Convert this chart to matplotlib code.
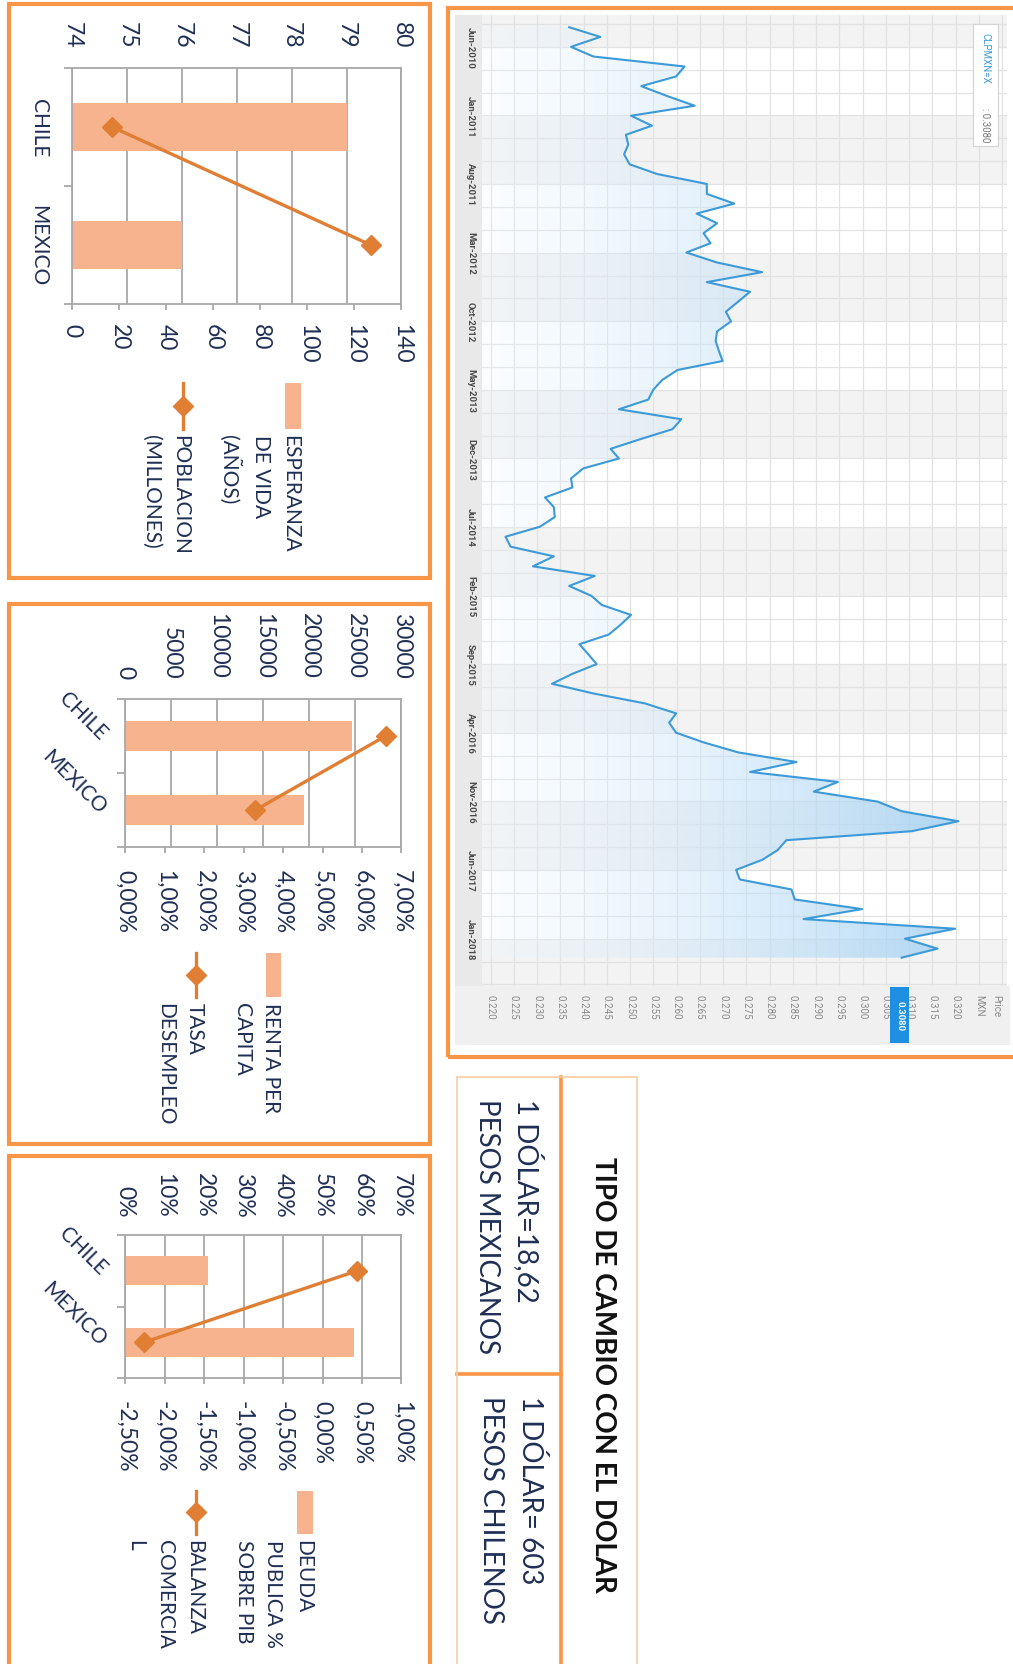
import numpy as np
import pandas as pd
import matplotlib
matplotlib.use("Agg")
import matplotlib.pyplot as plt
import matplotlib.dates as mdates
from matplotlib.patches import Rectangle
from matplotlib.lines import Line2D
from matplotlib.colors import LinearSegmentedColormap
from matplotlib.ticker import FuncFormatter

W, H, DPI = 1013, 1665, 100
plt.rcParams["font.family"] = ["Lato", "DejaVu Sans"]

# ---------------- data ----------------
countries = ["CHILE", "MEXICO"]

life_expectancy = [79, 76]            # ESPERANZA DE VIDA (AÑOS)
population_m = [17, 127]              # POBLACION (MILLONES)

income_per_capita = [24600, 19450]    # RENTA PER CAPITA
unemployment = [0.066, 0.033]         # TASA DESEMPLEO

public_debt = [0.21, 0.58]            # DEUDA PUBLICA % SOBRE PIB
trade_balance = [0.0044, -0.0226]     # BALANZA COMERCIAL

# monthly CLP/MXN close, Apr-2010 .. Mar-2018
fx_start = "2010-04-01"
clp_mxn = [
    0.2369, 0.2436, 0.2373, 0.2421, 0.2617, 0.2599, 0.2524, 0.2580, 0.2639, 0.2502,
    0.2547, 0.2491, 0.2496, 0.2487, 0.2499, 0.2558, 0.2665, 0.2665, 0.2724, 0.2643,
    0.2687, 0.2658, 0.2673, 0.2621, 0.2687, 0.2784, 0.2665, 0.2758, 0.2732, 0.2706,
    0.2717, 0.2687, 0.2684, 0.2691, 0.2699, 0.2602, 0.2569, 0.2550, 0.2539, 0.2476,
    0.2610, 0.2591, 0.2524, 0.2458, 0.2476, 0.2399, 0.2373, 0.2376, 0.2317, 0.2336,
    0.2338, 0.2306, 0.2232, 0.2243, 0.2336, 0.2291, 0.2424, 0.2369, 0.2417, 0.2439,
    0.2502, 0.2480, 0.2454, 0.2391, 0.2410, 0.2428, 0.2376, 0.2332, 0.2421, 0.2532,
    0.2599, 0.2584, 0.2599, 0.2658, 0.2732, 0.2858, 0.2758, 0.2947, 0.2895, 0.3032,
    0.3084, 0.3206, 0.3106, 0.2836, 0.2817, 0.2784, 0.2728, 0.2736, 0.2847, 0.2854,
    0.2999, 0.2873, 0.3199, 0.3091, 0.3161, 0.3084,
]
fx_tick_labels = ["Jun-2010", "Jan-2011", "Aug-2011", "Mar-2012", "Oct-2012", "May-2013",
                  "Dec-2013", "Jul-2014", "Feb-2015", "Sep-2015", "Apr-2016", "Nov-2016",
                  "Jun-2017", "Jan-2018"]
fx_last = 0.3080
fx_ticker = "CLPMXN=X"

usd_in_mxn = "18,62"
usd_in_clp = "603"

# ---------------- style ----------------
ORANGE = "#F79646"
BAR = "#F7B38D"
LINE = "#E07E34"
GRID = "#A8A8A8"
TXT = "#1F2F55"
FX_LINE = "#3C9AD8"
NUM_SIZE = 16.5

fig = plt.figure(figsize=(W / DPI, H / DPI), dpi=DPI, facecolor="white")


def rect(x0, y0, x1, y1):
    """pixel box (top-left origin) -> figure fraction rect"""
    return [x0 / W, 1 - y1 / H, (x1 - x0) / W, (y1 - y0) / H]


def P(x, y):
    return x / W, 1 - y / H


def frame(x0, y0, x1, y1, color, lw):
    fig.add_artist(Rectangle(P(x0, y1), (x1 - x0) / W, (y1 - y0) / H,
                             transform=fig.transFigure, fill=False,
                             edgecolor=color, linewidth=lw, zorder=5))


def combo_chart(box, bar_vals, bar_lim, bar_ticks, bar_fmt, top_pad,
                line_vals, line_lim, line_ticks, line_fmt, bottom_pad,
                diagonal, cat_pad):
    ax = fig.add_axes(rect(*box))
    ax2 = ax.twiny()
    pos = np.arange(len(countries))

    # bars on the top value axis
    ax.barh(pos, np.array(bar_vals) - bar_lim[0], left=bar_lim[0], height=0.4,
            color=BAR, zorder=2)
    ax.set_xlim(bar_lim)
    ax.set_ylim(len(countries) - 0.5, -0.5)
    ax.xaxis.tick_top()
    ax.set_xticks(bar_ticks)
    ax.xaxis.set_major_formatter(FuncFormatter(bar_fmt))
    ax.tick_params(axis="x", length=0, pad=top_pad, labelrotation=-90,
                   labelsize=NUM_SIZE, labelcolor=TXT)
    ax.grid(axis="x", color=GRID, lw=1.3)
    ax.set_axisbelow(True)
    ax.set_yticks(np.arange(len(countries) + 1) - 0.5)
    ax.set_yticklabels([])
    ax.set_yticks(pos, minor=True)
    ax.set_yticklabels(countries, minor=True)
    ax.tick_params(axis="y", which="major", length=6, color=GRID, width=1.3)
    ax.tick_params(axis="y", which="minor", length=0, pad=cat_pad,
                   labelsize=15, labelcolor=TXT)
    for lbl in ax.get_yticklabels(minor=True):
        if diagonal:
            lbl.set_rotation(-45)
            lbl.set_rotation_mode("anchor")
            lbl.set_ha("right")
            lbl.set_va("center")
        else:
            lbl.set_rotation(-90)
            lbl.set_va("center")
    for s in ax.spines.values():
        s.set_color(GRID)
        s.set_linewidth(1.3)

    # line on the bottom value axis
    ax2.xaxis.tick_bottom()
    ax2.set_xlim(line_lim)
    ax2.set_xticks(line_ticks)
    ax2.xaxis.set_major_formatter(FuncFormatter(line_fmt))
    ax2.tick_params(axis="x", length=4.5, width=1.3, color=GRID, pad=bottom_pad,
                    labelrotation=-90, labelsize=NUM_SIZE, labelcolor=TXT)
    for s in ax2.spines.values():
        s.set_visible(False)
    ax2.plot(line_vals, pos, color=LINE, lw=2.4, marker="D", ms=10,
             zorder=3, clip_on=False)
    return ax


def legend(swatch, bar_text, line_x, line_text, y_text):
    sx0, sx1, sy0, sy1 = swatch
    fig.add_artist(Rectangle(P(sx0, sy1), (sx1 - sx0) / W, (sy1 - sy0) / H,
                             transform=fig.transFigure, facecolor=BAR, edgecolor="none"))
    fig.text(*P((sx0 + sx1) / 2 + 8, y_text), bar_text, rotation=-90, ha="right",
             va="top", fontsize=15, color=TXT, linespacing=1.6, multialignment="left")
    x, _ = P(line_x, 0)
    fig.add_artist(Line2D([x, x], [P(0, sy0)[1], P(0, sy1)[1]], color=LINE, lw=2.4,
                          transform=fig.transFigure))
    fig.add_artist(Line2D([x], [P(0, (sy0 + sy1) / 2)[1]], color=LINE, marker="D", ms=10,
                          transform=fig.transFigure))
    fig.text(*P(line_x + 8, y_text), line_text, rotation=-90, ha="right", va="top",
             fontsize=15, color=TXT, linespacing=1.6, multialignment="left")


def pct2(v, _):
    return f"{v * 100:.2f}%".replace(".", ",")


def pct0(v, _):
    return f"{v * 100:.0f}%"


def plain(v, _):
    return f"{v:.0f}"


# ---------------- panel frames ----------------
frame(8.5, 5.3, 430, 579, ORANGE, 3)
frame(8.5, 605, 430, 1145, ORANGE, 3)
frame(8.5, 1157, 430, 1720, ORANGE, 3)
frame(448, 8.5, 1060, 1058, ORANGE, 3)

# ---------------- chart 1 : life expectancy / population ----------------
combo_chart((72.2, 69, 401.4, 305), life_expectancy, (74, 80), np.arange(74, 81), plain, 15,
            population_m, (0, 140), np.arange(0, 141, 20), plain, 9,
            False, 17)
legend((284.6, 300.5, 384, 430), "ESPERANZA\nDE VIDA\n(AÑOS)",
       182.6, "POBLACION\n(MILLONES)", 435)

# ---------------- chart 2 : income / unemployment ----------------
combo_chart((125.3, 700, 401.4, 848), income_per_capita, (0, 30000),
            np.arange(0, 30001, 5000), plain, 15,
            unemployment, (0, 0.07), np.linspace(0, 0.07, 8), pct2, 11,
            True, 16)
legend((265.5, 281.4, 953.6, 998), "RENTA PER\nCAPITA",
       196.4, "TASA\nDESEMPLEO", 1003.5)

# ---------------- chart 3 : public debt / trade balance ----------------
combo_chart((125.3, 1236, 401.4, 1379), public_debt, (0, 0.70),
            np.linspace(0, 0.70, 8), pct0, 13,
            trade_balance, (-0.025, 0.01), np.linspace(-0.025, 0.01, 8), pct2, 11,
            True, 16)
legend((297, 313, 1492, 1534.5), "DEUDA\nPUBLICA %\nSOBRE PIB",
       196.4, "BALANZA\nCOMERCIA\nL", 1540)

# ---------------- exchange rate box ----------------
frame(457, 1078, 637, 1720, "#F9CBA3", 1.2)
fig.add_artist(Line2D([P(561, 0)[0]] * 2, [P(0, 1078)[1], 0], color=ORANGE, lw=2.6,
                      transform=fig.transFigure))
fig.add_artist(Line2D([P(457, 0)[0], P(561, 0)[0]], [P(0, 1375)[1]] * 2, color=ORANGE,
                      lw=2.6, transform=fig.transFigure))
fig.text(*P(603, 1375), "TIPO DE CAMBIO CON EL DOLAR", rotation=-90, ha="center",
         va="center", fontsize=20, fontweight="bold", color="#111111")
fig.text(*P(544, 1099), f"1 DÓLAR={usd_in_mxn}\nPESOS MEXICANOS", rotation=-90,
         ha="right", va="top", fontsize=20, color=TXT, linespacing=1.6,
         multialignment="left")
fig.text(*P(544, 1396), f"1 DÓLAR= {usd_in_clp}\nPESOS CHILENOS", rotation=-90,
         ha="right", va="top", fontsize=20, color=TXT, linespacing=1.6,
         multialignment="left")

# ---------------- CLP/MXN history ----------------
# label strips (behind the axes)
fig.add_artist(Rectangle(P(455, 987), 27 / W, 971 / H, transform=fig.transFigure,
                         facecolor="#E9E9E9", edgecolor="none", zorder=-2))
fig.add_artist(Rectangle(P(455, 1046), 555 / W, 59 / H, transform=fig.transFigure,
                         facecolor="#F0F0F0", edgecolor="none", zorder=-2))

axf = fig.add_axes(rect(482, 16, 1007, 987))
axf.patch.set_alpha(0)
fx_dates = pd.date_range(fx_start, periods=len(clp_mxn), freq="MS")
t = mdates.date2num(fx_dates)
tick_t = mdates.date2num(pd.to_datetime(fx_tick_labels, format="%b-%Y"))
y_top = mdates.date2num(pd.Timestamp("2010-02-22"))
y_bot = mdates.date2num(pd.Timestamp("2018-05-28"))
x_lo, x_hi = 0.21815, 0.33105

# alternating time bands
bounds = [y_top] + list(tick_t) + [y_bot]
for i in range(0, len(bounds) - 1, 2):
    axf.axhspan(bounds[i], bounds[i + 1], color="#F3F3F3", zorder=0, lw=0)

# grid: three rows per labelled interval, one column per 0.005
step = np.diff(tick_t).mean() / 3
rows = np.arange(tick_t[0] - 2 * step, y_bot, step)
for r in rows:
    axf.axhline(r, color="#E2E2E2", lw=0.9, zorder=1)
for c in np.arange(0.220, x_hi, 0.005):
    axf.axvline(c, color="#E2E2E2", lw=0.9, zorder=1)

# gradient area under the line
poly = axf.fill_betweenx(t, x_lo, clp_mxn, facecolor="none", edgecolor="none")
cmap = LinearSegmentedColormap.from_list(
    "fxfill", [(0.94, 0.97, 1.0, 0.25), (0.62, 0.81, 0.95, 0.85)])
im = axf.imshow(np.linspace(0, 1, 256).reshape(1, -1), extent=[x_lo, 0.325, y_bot, y_top],
                aspect="auto", cmap=cmap, zorder=2, interpolation="bilinear")
im.set_clip_path(poly.get_paths()[0], axf.transData)
axf.plot(clp_mxn, t, color=FX_LINE, lw=1.5, zorder=3)

axf.set_xlim(x_lo, x_hi)
axf.set_ylim(y_bot, y_top)
for s in axf.spines.values():
    s.set_visible(False)

axf.set_yticks(tick_t)
axf.set_yticklabels(fx_tick_labels, fontsize=6.8, fontweight="bold", color="#4A4A4A",
                    family=["Roboto", "DejaVu Sans"])
axf.tick_params(axis="y", length=0, pad=5, labelrotation=-90)
for lbl in axf.get_yticklabels():
    lbl.set_va("center")

price_ticks = list(np.round(np.arange(0.220, 0.3201, 0.005), 3))
axf.set_xticks(price_ticks + [0.325, 0.3288])
axf.set_xticklabels([f"{v:.3f}" for v in price_ticks] + ["MXN", "Price"],
                    fontsize=7, color="#8A8A8A", family=["Roboto", "DejaVu Sans"])
axf.tick_params(axis="x", length=0, pad=6, labelrotation=-90)

# current price marker on the axis
axf.add_patch(Rectangle((fx_last - 0.00205, -0.0587), 0.0041, 0.0577,
                        transform=axf.get_xaxis_transform(), facecolor="#1E8FE1",
                        edgecolor="none", clip_on=False, zorder=5))
axf.text(fx_last, -0.030, f"{fx_last:.4f}", transform=axf.get_xaxis_transform(),
         rotation=-90, ha="center", va="center", fontsize=6.8, color="white",
         fontweight="bold", family=["Roboto", "DejaVu Sans"], zorder=6, clip_on=False)

# ticker box
axf.add_patch(Rectangle((0.935, 0.865), 0.048, 0.126, transform=axf.transAxes,
                        facecolor="white", edgecolor="#D5D5D5", lw=0.9, zorder=6))
axf.text(0.959, 0.983, fx_ticker, transform=axf.transAxes, rotation=-90, ha="center",
         va="top", fontsize=7, color="#3C9AD8", family=["Roboto", "DejaVu Sans"],
         zorder=7)
axf.text(0.959, 0.905, f": {fx_last:.4f}", transform=axf.transAxes, rotation=-90,
         ha="center", va="top", fontsize=7, color="#777777",
         family=["Roboto", "DejaVu Sans"], zorder=7)

fig.savefig("out.png", dpi=DPI, facecolor="white")
